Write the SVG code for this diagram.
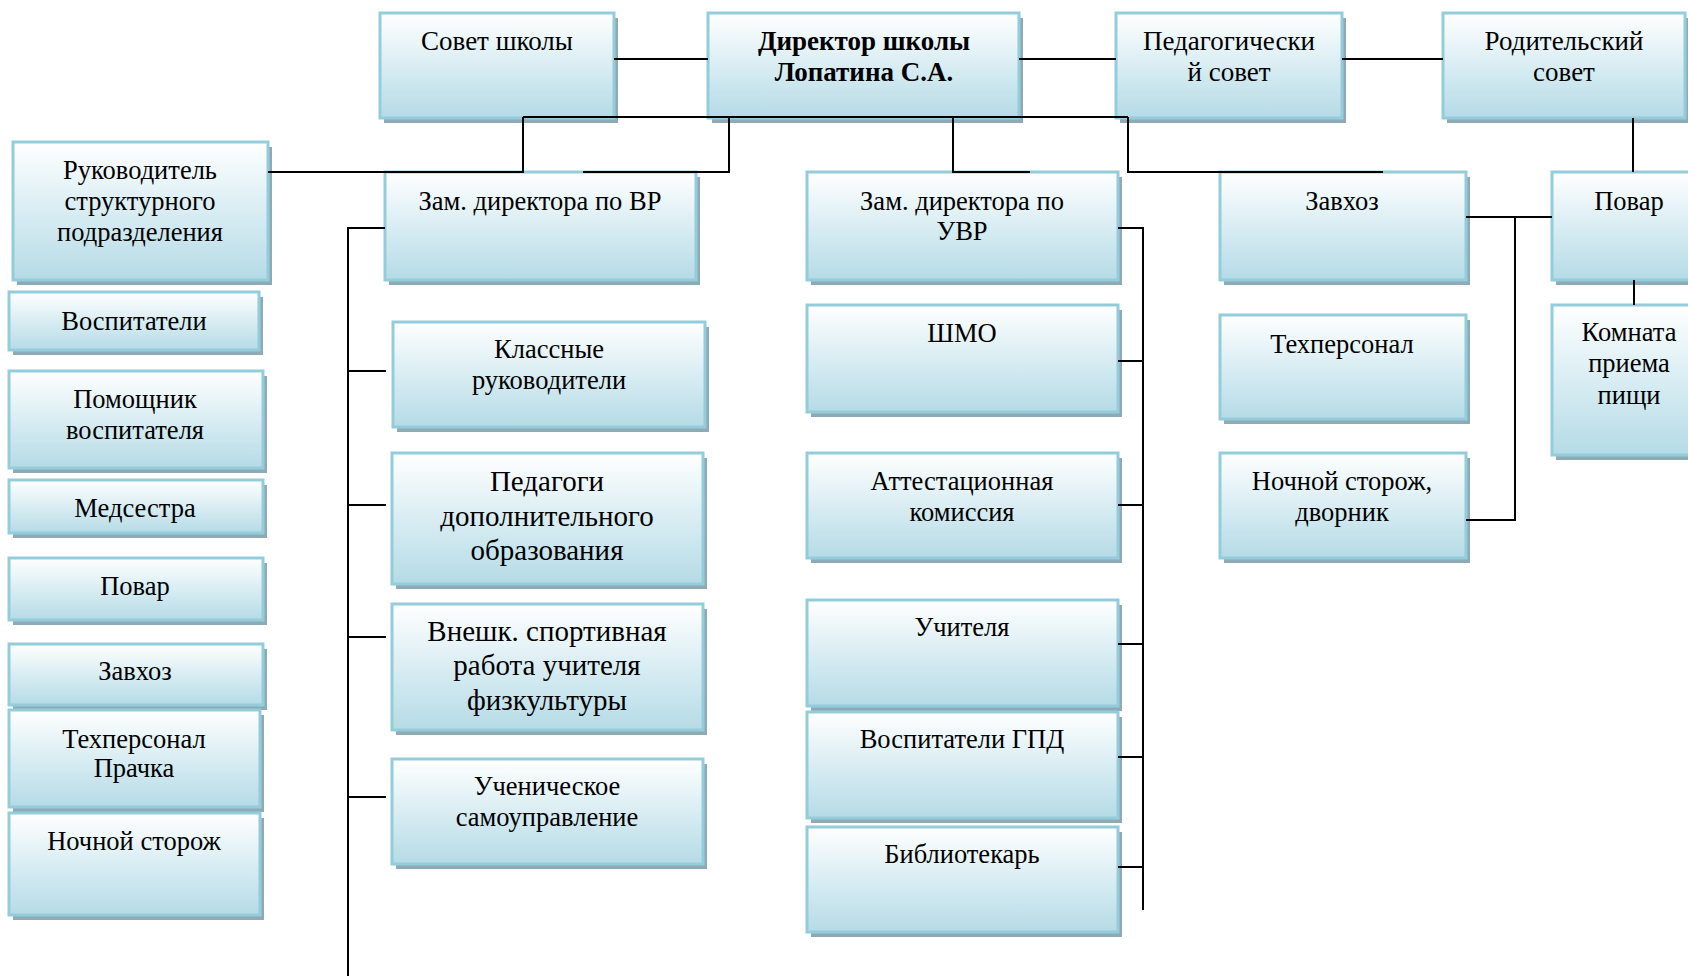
<svg xmlns="http://www.w3.org/2000/svg" width="1688" height="976" viewBox="0 0 1688 976">
<defs>
<linearGradient id="g" x1="0" y1="0" x2="0" y2="1">
<stop offset="0" stop-color="#ffffff"/>
<stop offset="0.5" stop-color="#d9edf3"/>
<stop offset="1" stop-color="#b5dbe6"/>
</linearGradient>
</defs>
<style>
.sh{fill:#8eaab4}
.bx{fill:url(#g);stroke:#93cddc;stroke-width:3}
text{font-family:"Liberation Serif","Times New Roman",serif;font-size:26.5px;fill:#000;text-anchor:middle}
.t{font-size:27px}
.b{font-weight:bold}
.l{font-size:29px}
.c{fill:none;stroke:#000;stroke-width:2}
</style>
<rect width="1688" height="976" fill="#fff"/>
<g id="sovet"><rect class="sh" x="384" y="18" width="234" height="105"/><rect class="bx" x="380" y="13" width="234" height="105"/><text class="t" x="497" y="50">Совет школы</text></g>
<g id="director"><rect class="sh" x="712" y="18" width="311" height="105"/><rect class="bx" x="708" y="13" width="311" height="105"/><text class="t b" x="864" y="50">Директор школы</text><text class="t b" x="864" y="81">Лопатина С.А.</text></g>
<g id="pedsovet"><rect class="sh" x="1120" y="18" width="226" height="105"/><rect class="bx" x="1116" y="13" width="226" height="105"/><text class="t" x="1229" y="50">Педагогически</text><text class="t" x="1229" y="81">й совет</text></g>
<g id="roditel"><rect class="sh" x="1447" y="18" width="242" height="105"/><rect class="bx" x="1443" y="13" width="242" height="105"/><text class="t" x="1564" y="50">Родительский</text><text class="t" x="1564" y="81">совет</text></g>
<g id="rukovod"><rect class="sh" x="17" y="147" width="255" height="138"/><rect class="bx" x="13" y="142" width="255" height="138"/><text x="140" y="179">Руководитель</text><text x="140" y="210">структурного</text><text x="140" y="241">подразделения</text></g>
<g id="zamvr"><rect class="sh" x="389" y="177" width="311" height="108"/><rect class="bx" x="385" y="172" width="311" height="108"/><text x="540" y="210">Зам. директора по ВР</text></g>
<g id="zamuvr"><rect class="sh" x="811" y="177" width="311" height="108"/><rect class="bx" x="807" y="172" width="311" height="108"/><text x="962" y="210">Зам. директора по</text><text x="962" y="240">УВР</text></g>
<g id="zavhoz2"><rect class="sh" x="1224" y="177" width="246" height="108"/><rect class="bx" x="1220" y="172" width="246" height="108"/><text x="1342" y="210">Завхоз</text></g>
<g id="povar2"><rect class="sh" x="1556" y="177" width="170" height="108"/><rect class="bx" x="1552" y="172" width="170" height="108"/><text x="1629" y="210">Повар</text></g>
<g id="komnata"><rect class="sh" x="1556" y="310" width="170" height="150"/><rect class="bx" x="1552" y="305" width="170" height="150"/><text x="1629" y="341">Комната</text><text x="1629" y="372">приема</text><text x="1629" y="404">пищи</text></g>
<g id="tehpers2"><rect class="sh" x="1224" y="320" width="246" height="104"/><rect class="bx" x="1220" y="315" width="246" height="104"/><text x="1342" y="353">Техперсонал</text></g>
<g id="nochnoy2"><rect class="sh" x="1224" y="458" width="246" height="105"/><rect class="bx" x="1220" y="453" width="246" height="105"/><text x="1342" y="490">Ночной сторож,</text><text x="1342" y="521">дворник</text></g>
<g id="vospit"><rect class="sh" x="13" y="297" width="250" height="58"/><rect class="bx" x="9" y="292" width="250" height="58"/><text x="134" y="330">Воспитатели</text></g>
<g id="pomosh"><rect class="sh" x="13" y="376" width="254" height="97"/><rect class="bx" x="9" y="371" width="254" height="97"/><text x="135" y="408">Помощник</text><text x="135" y="439">воспитателя</text></g>
<g id="medsestra"><rect class="sh" x="13" y="485" width="254" height="53"/><rect class="bx" x="9" y="480" width="254" height="53"/><text x="135" y="517">Медсестра</text></g>
<g id="povar1"><rect class="sh" x="13" y="563" width="254" height="62"/><rect class="bx" x="9" y="558" width="254" height="62"/><text x="135" y="595">Повар</text></g>
<g id="zavhoz1"><rect class="sh" x="13" y="649" width="254" height="61"/><rect class="bx" x="9" y="644" width="254" height="61"/><text x="135" y="680">Завхоз</text></g>
<g id="tehpers1"><rect class="sh" x="13" y="715" width="251" height="97"/><rect class="bx" x="9" y="710" width="251" height="97"/><text x="134" y="748">Техперсонал</text><text x="134" y="777">Прачка</text></g>
<g id="nochnoy1"><rect class="sh" x="13" y="818" width="251" height="102"/><rect class="bx" x="9" y="813" width="251" height="102"/><text x="134" y="850">Ночной сторож</text></g>
<g id="klass"><rect class="sh" x="397" y="327" width="312" height="105"/><rect class="bx" x="393" y="322" width="312" height="105"/><text x="549" y="358">Классные</text><text x="549" y="389">руководители</text></g>
<g id="pedagogi"><rect class="sh" x="396" y="458" width="311" height="131"/><rect class="bx" x="392" y="453" width="311" height="131"/><text class="l" x="547" y="491">Педагоги</text><text class="l" x="547" y="526">дополнительного</text><text class="l" x="547" y="560">образования</text></g>
<g id="vneshk"><rect class="sh" x="396" y="609" width="311" height="126"/><rect class="bx" x="392" y="604" width="311" height="126"/><text class="l" x="547" y="641">Внешк. спортивная</text><text class="l" x="547" y="675">работа учителя</text><text class="l" x="547" y="710">физкультуры</text></g>
<g id="uchenich"><rect class="sh" x="396" y="764" width="311" height="105"/><rect class="bx" x="392" y="759" width="311" height="105"/><text x="547" y="795">Ученическое</text><text x="547" y="826">самоуправление</text></g>
<g id="shmo"><rect class="sh" x="811" y="310" width="311" height="107"/><rect class="bx" x="807" y="305" width="311" height="107"/><text x="962" y="342">ШМО</text></g>
<g id="attest"><rect class="sh" x="811" y="458" width="311" height="105"/><rect class="bx" x="807" y="453" width="311" height="105"/><text x="962" y="490">Аттестационная</text><text x="962" y="521">комиссия</text></g>
<g id="uchitel"><rect class="sh" x="811" y="605" width="311" height="106"/><rect class="bx" x="807" y="600" width="311" height="106"/><text x="962" y="636">Учителя</text></g>
<g id="vospgpd"><rect class="sh" x="811" y="717" width="311" height="106"/><rect class="bx" x="807" y="712" width="311" height="106"/><text x="962" y="748">Воспитатели ГПД</text></g>
<g id="bibl"><rect class="sh" x="811" y="832" width="311" height="105"/><rect class="bx" x="807" y="827" width="311" height="105"/><text x="962" y="863">Библиотекарь</text></g>
<g id="connectors" class="c">
<path d="M614 59H708M1019 59H1116M1342 59H1443"/>
<path d="M523 117H1128"/>
<path d="M523 117V172H268"/>
<path d="M729 117V172H583"/>
<path d="M953 117V172H1030"/>
<path d="M1128 117V172H1383"/>
<path d="M1633 118V172"/>
<path d="M1466 217H1552M1515 217V520H1466"/>
<path d="M1634 280V305"/>
<path d="M348 976V228H385M348 371H386M348 505H386M348 637H386M348 797H386"/>
<path d="M1118 228H1143V910M1118 361H1143M1118 505H1143M1118 644H1143M1118 757H1143M1118 867H1143"/>
</g>
</svg>
